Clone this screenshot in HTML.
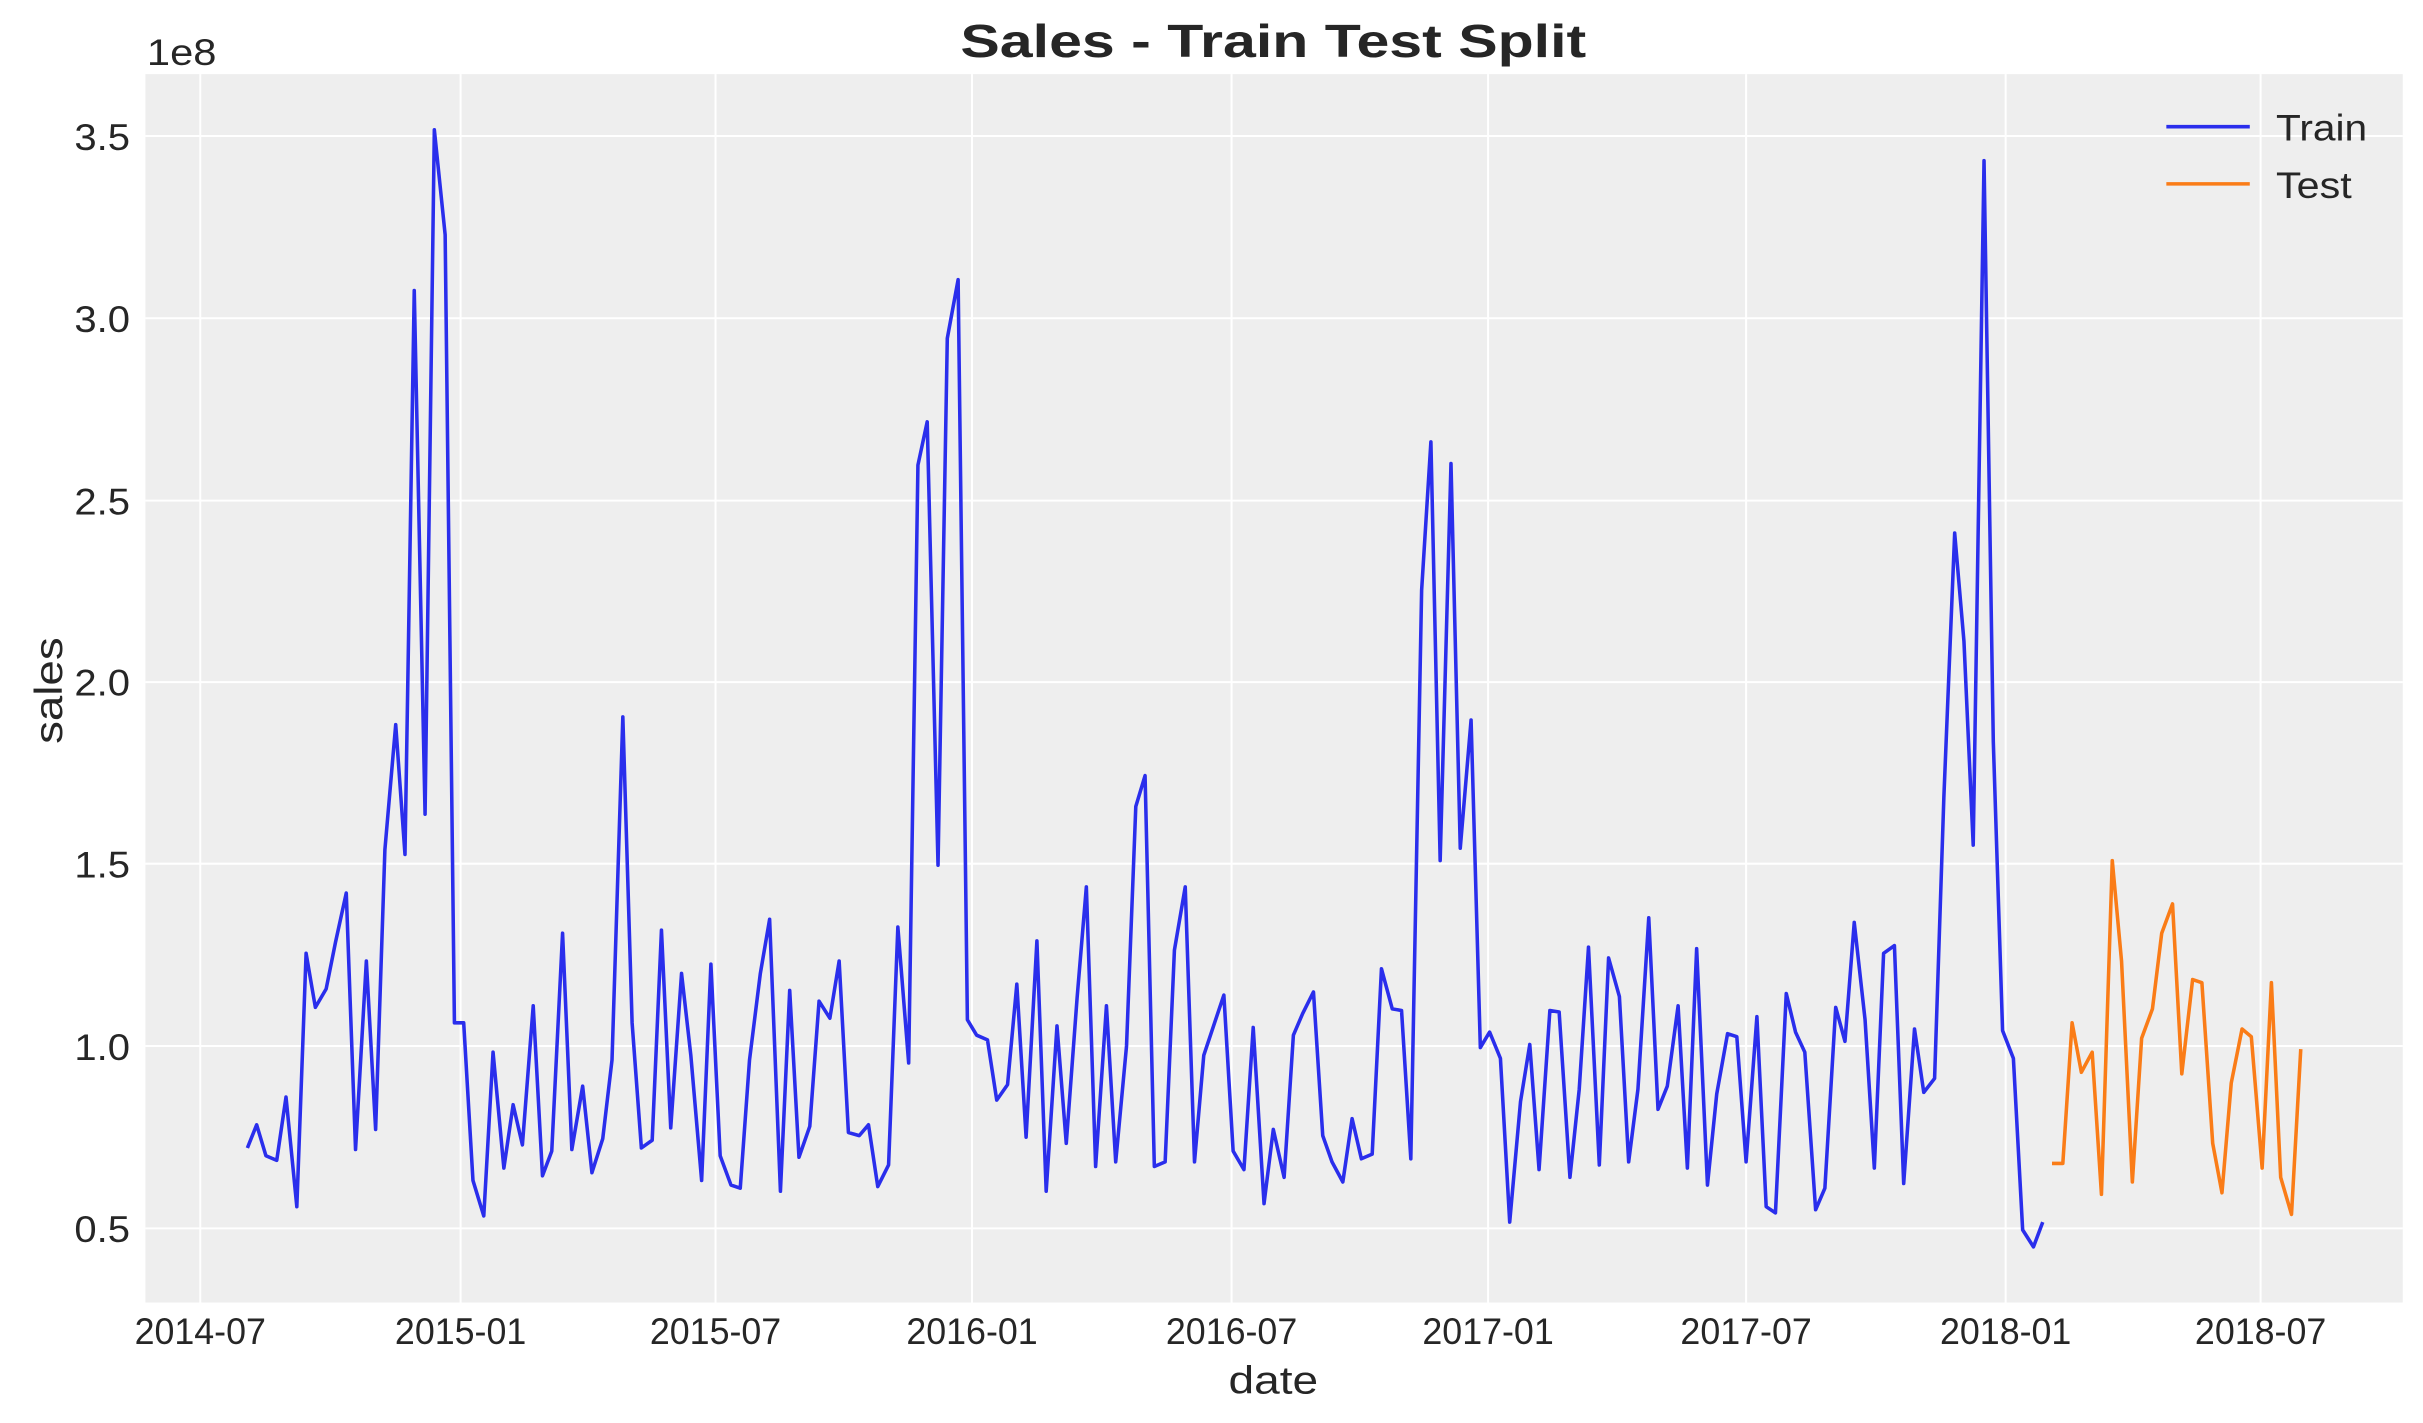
<!DOCTYPE html>
<html><head><meta charset="utf-8"><style>html,body{margin:0;padding:0;background:#fff}svg{display:block}text{font-family:"Liberation Sans","DejaVu Sans",sans-serif;fill:#262626}</style></head>
<body>
<svg width="2423" height="1423" viewBox="0 0 1568 921" xmlns="http://www.w3.org/2000/svg">
<rect x="94" y="48" width="1461" height="795" fill="#eeeeee"/>
<g stroke="#fff" stroke-width="1.3">
<line x1="94" x2="1555" y1="795" y2="795"/><line x1="94" x2="1555" y1="677" y2="677"/><line x1="94" x2="1555" y1="559" y2="559"/><line x1="94" x2="1555" y1="441.5" y2="441.5"/><line x1="94" x2="1555" y1="324" y2="324"/><line x1="94" x2="1555" y1="206" y2="206"/><line x1="94" x2="1555" y1="88" y2="88"/>
<line y1="48" y2="843" x1="129.5" x2="129.5"/><line y1="48" y2="843" x1="298" x2="298"/><line y1="48" y2="843" x1="463" x2="463"/><line y1="48" y2="843" x1="629" x2="629"/><line y1="48" y2="843" x1="797" x2="797"/><line y1="48" y2="843" x1="963" x2="963"/><line y1="48" y2="843" x1="1130" x2="1130"/><line y1="48" y2="843" x1="1298" x2="1298"/><line y1="48" y2="843" x1="1463" x2="1463"/>
</g>
<g font-size="24" text-anchor="end">
<text x="84" y="804" textLength="36" lengthAdjust="spacingAndGlyphs">0.5</text><text x="84" y="686" textLength="36" lengthAdjust="spacingAndGlyphs">1.0</text><text x="84" y="568" textLength="36" lengthAdjust="spacingAndGlyphs">1.5</text><text x="84" y="450" textLength="36" lengthAdjust="spacingAndGlyphs">2.0</text><text x="84" y="333" textLength="36" lengthAdjust="spacingAndGlyphs">2.5</text><text x="84" y="215" textLength="36" lengthAdjust="spacingAndGlyphs">3.0</text><text x="84" y="97" textLength="36" lengthAdjust="spacingAndGlyphs">3.5</text>
</g>
<text x="95" y="42" font-size="24" textLength="45" lengthAdjust="spacingAndGlyphs">1e8</text>
<g font-size="24" text-anchor="middle">
<text x="129.5" y="870" textLength="85" lengthAdjust="spacingAndGlyphs">2014-07</text><text x="298" y="870" textLength="85" lengthAdjust="spacingAndGlyphs">2015-01</text><text x="463" y="870" textLength="85" lengthAdjust="spacingAndGlyphs">2015-07</text><text x="629" y="870" textLength="85" lengthAdjust="spacingAndGlyphs">2016-01</text><text x="797" y="870" textLength="85" lengthAdjust="spacingAndGlyphs">2016-07</text><text x="963" y="870" textLength="85" lengthAdjust="spacingAndGlyphs">2017-01</text><text x="1130" y="870" textLength="85" lengthAdjust="spacingAndGlyphs">2017-07</text><text x="1298" y="870" textLength="85" lengthAdjust="spacingAndGlyphs">2018-01</text><text x="1463" y="870" textLength="85" lengthAdjust="spacingAndGlyphs">2018-07</text>
</g>
<text x="824" y="902" font-size="25" text-anchor="middle" textLength="58" lengthAdjust="spacingAndGlyphs">date</text>
<text transform="translate(40,447) rotate(-90)" font-size="25" text-anchor="middle" textLength="69" lengthAdjust="spacingAndGlyphs">sales</text>
<text x="824" y="37" font-size="30" font-weight="bold" text-anchor="middle" textLength="405" lengthAdjust="spacingAndGlyphs">Sales - Train Test Split</text>
<polyline fill="none" stroke="#2a2eec" stroke-width="2.3" stroke-linejoin="round" points="160,743 166,728 172,748 179,751 185,710 192,781 198,617 204,652 211,640 217,610 224,578 230,744 237,622 243,731 249,550 256,469 262,553 268,188 275,527 281,84 288,152 294,662 300,662 306,764 313,787 319,681 326,756 332,715 338,741 345,651 351,761 357,745 364,604 370,744 377,703 383,759 390,737 396,686 403,464 409,662 415,743 422,738 428,602 434,730 441,630 447,683 454,764 460,624 466,748 473,767 479,769 485,686 492,630 498,595 505,771 511,641 517,749 524,729 530,648 537,659 543,622 549,733 556,735 562,728 568,768 575,754 581,600 588,688 594,301 600,273 607,560 613,219 620,181 626,660 632,670 639,673 645,712 652,702 658,637 664,736 671,609 677,771 684,664 690,740 697,646 703,574 709,755 716,651 722,752 729,677 735,522 741,502 747,755 754,752 760,615 767,574 773,752 779,683 786,662 792,644 798,745 805,757 811,665 818,779 824,731 831,762 837,670 843,656 850,642 856,735 862,752 869,765 875,724 881,750 888,747 894,627 901,653 907,654 913,750 920,382 926,286 932,557 939,300 945,549 952,466 958,678 964,668 971,685 977,791 984,713 990,676 996,757 1003,654 1009,655 1016,762 1022,705 1028,613 1035,754 1041,620 1048,645 1054,752 1060,705 1067,594 1073,718 1079,703 1086,651 1092,756 1098,614 1105,767 1111,708 1118,669 1124,671 1130,752 1137,658 1143,781 1149,785 1156,643 1162,668 1168,681 1175,783 1181,769 1188,652 1194,674 1200,597 1207,660 1213,756 1219,617 1226,612 1232,766 1239,666 1245,707 1252,698 1258,516 1265,345 1271,415 1277,547 1284,104 1290,480 1296,667 1303,685 1309,796 1316,807 1322,791"/>
<polyline fill="none" stroke="#fa7c17" stroke-width="2.3" stroke-linejoin="round" points="1328,753 1335,753 1341,662 1347,694 1354,681 1360,773 1367,557 1373,622 1380,765 1386,672 1393,653 1399,604 1406,585 1412,695 1419,634 1425,636 1432,740 1438,772 1444,701 1451,666 1457,671 1464,756 1470,636 1476,762 1483,786 1489,679"/>
<line x1="1402" x2="1456" y1="82" y2="82" stroke="#2a2eec" stroke-width="2.3"/>
<line x1="1402" x2="1456" y1="119" y2="119" stroke="#fa7c17" stroke-width="2.3"/>
<text x="1473" y="91" font-size="24" textLength="59" lengthAdjust="spacingAndGlyphs">Train</text>
<text x="1473" y="128" font-size="24" textLength="49" lengthAdjust="spacingAndGlyphs">Test</text>
</svg>
</body></html>
